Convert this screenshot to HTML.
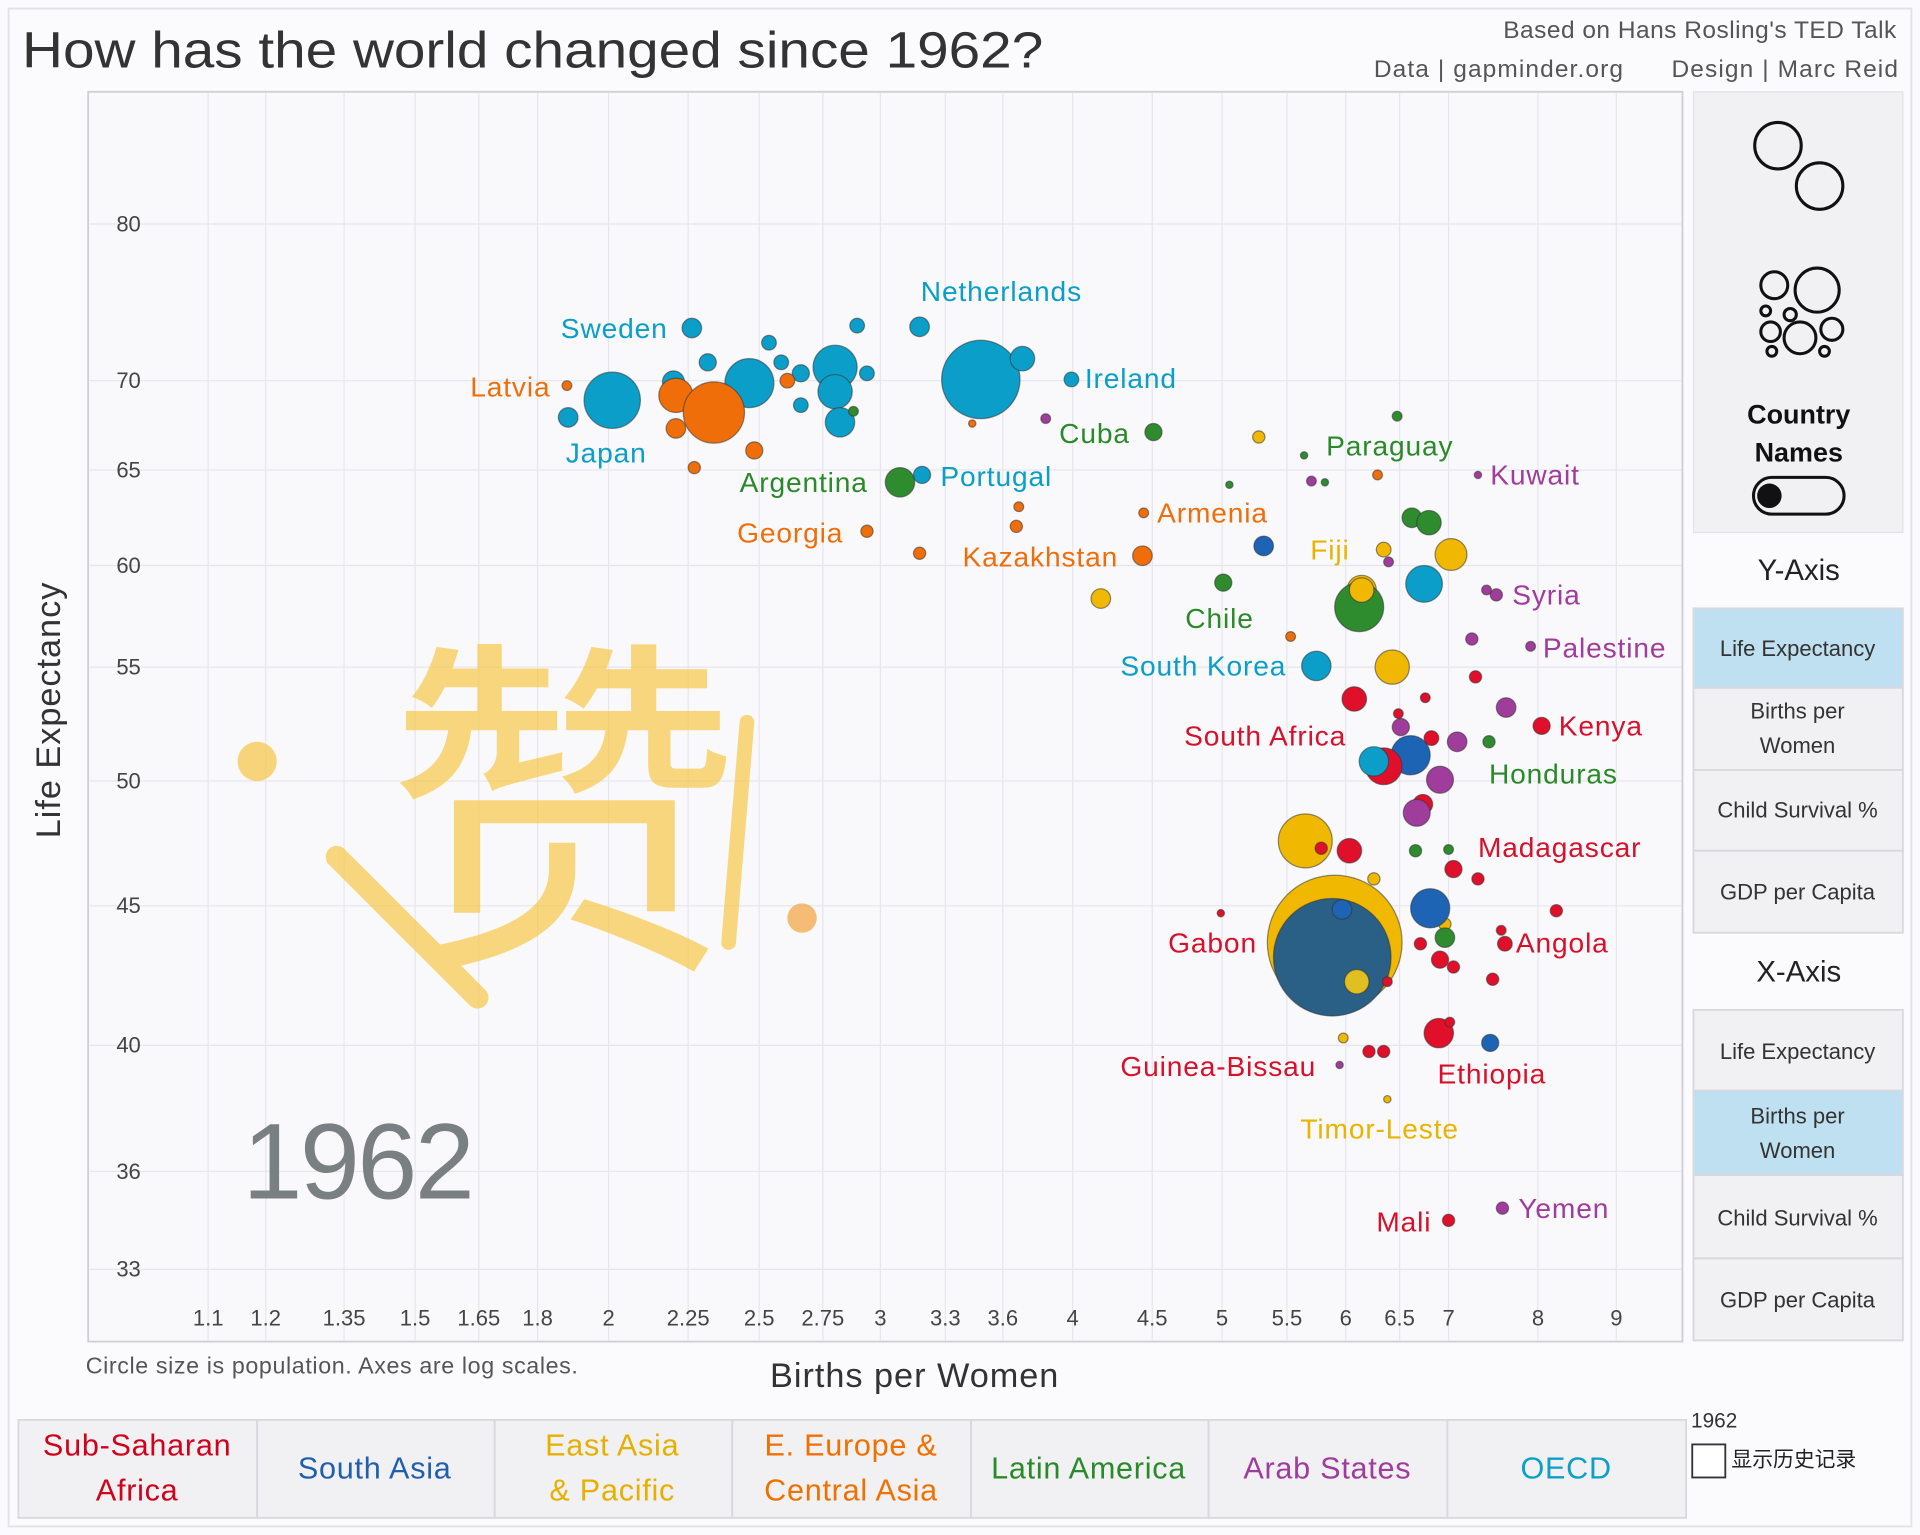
<!DOCTYPE html>
<html><head><meta charset="utf-8"><style>
html,body{margin:0;padding:0;background:#fbfbfd;}
svg{display:block;}
text{font-family:"Liberation Sans","Noto Sans CJK SC",sans-serif;}
</style></head><body>
<svg width="1920" height="1535" viewBox="0 0 1568 1254" preserveAspectRatio="none" xmlns="http://www.w3.org/2000/svg">
<rect x="0" y="0" width="1568" height="1254" fill="#fbfbfd"/>
<rect x="7" y="7" width="1554" height="1240" fill="none" stroke="#e2e2e8" stroke-width="1.5"/>
<text x="18" y="55" font-size="42" fill="#333" textLength="834" lengthAdjust="spacingAndGlyphs">How has the world changed since 1962?</text>
<text x="1549" y="31" font-size="20" fill="#555" text-anchor="end" letter-spacing="0.4">Based on Hans Rosling's TED Talk</text>
<text x="1122" y="63" font-size="20" fill="#555" textLength="428" lengthAdjust="spacing">Data | gapminder.org &#160;&#160;&#160;&#160; Design | Marc Reid</text>
<rect x="72" y="75" width="1302" height="1021" fill="#f9f9fc" stroke="#cfcfd6" stroke-width="1.5"/>
<g stroke="#e6e6ec" stroke-width="1">
<line x1="170" y1="76" x2="170" y2="1095"/><line x1="217" y1="76" x2="217" y2="1095"/><line x1="281" y1="76" x2="281" y2="1095"/><line x1="339" y1="76" x2="339" y2="1095"/><line x1="391" y1="76" x2="391" y2="1095"/><line x1="439" y1="76" x2="439" y2="1095"/><line x1="497" y1="76" x2="497" y2="1095"/><line x1="562" y1="76" x2="562" y2="1095"/><line x1="620" y1="76" x2="620" y2="1095"/><line x1="672" y1="76" x2="672" y2="1095"/><line x1="719" y1="76" x2="719" y2="1095"/><line x1="772" y1="76" x2="772" y2="1095"/><line x1="819" y1="76" x2="819" y2="1095"/><line x1="876" y1="76" x2="876" y2="1095"/><line x1="941" y1="76" x2="941" y2="1095"/><line x1="998" y1="76" x2="998" y2="1095"/><line x1="1051" y1="76" x2="1051" y2="1095"/><line x1="1099" y1="76" x2="1099" y2="1095"/><line x1="1143" y1="76" x2="1143" y2="1095"/><line x1="1183" y1="76" x2="1183" y2="1095"/><line x1="1256" y1="76" x2="1256" y2="1095"/><line x1="1320" y1="76" x2="1320" y2="1095"/>
<line x1="73" y1="183" x2="1373" y2="183"/><line x1="73" y1="311" x2="1373" y2="311"/><line x1="73" y1="384" x2="1373" y2="384"/><line x1="73" y1="462" x2="1373" y2="462"/><line x1="73" y1="545" x2="1373" y2="545"/><line x1="73" y1="638" x2="1373" y2="638"/><line x1="73" y1="740" x2="1373" y2="740"/><line x1="73" y1="854" x2="1373" y2="854"/><line x1="73" y1="957" x2="1373" y2="957"/><line x1="73" y1="1037" x2="1373" y2="1037"/>
</g>
<g font-size="18" fill="#444" text-anchor="middle">
<text x="105" y="189">80</text><text x="105" y="317">70</text><text x="105" y="390">65</text><text x="105" y="468">60</text><text x="105" y="551">55</text><text x="105" y="644">50</text><text x="105" y="746">45</text><text x="105" y="860">40</text><text x="105" y="963">36</text><text x="105" y="1043">33</text>
<text x="170" y="1083">1.1</text><text x="217" y="1083">1.2</text><text x="281" y="1083">1.35</text><text x="339" y="1083">1.5</text><text x="391" y="1083">1.65</text><text x="439" y="1083">1.8</text><text x="497" y="1083">2</text><text x="562" y="1083">2.25</text><text x="620" y="1083">2.5</text><text x="672" y="1083">2.75</text><text x="719" y="1083">3</text><text x="772" y="1083">3.3</text><text x="819" y="1083">3.6</text><text x="876" y="1083">4</text><text x="941" y="1083">4.5</text><text x="998" y="1083">5</text><text x="1051" y="1083">5.5</text><text x="1099" y="1083">6</text><text x="1143" y="1083">6.5</text><text x="1183" y="1083">7</text><text x="1256" y="1083">8</text><text x="1320" y="1083">9</text>
</g>
<text transform="translate(49,580) rotate(-90)" font-size="28" fill="#333" text-anchor="middle" letter-spacing="0.8">Life Expectancy</text>
<text x="747" y="1133" font-size="28" fill="#333" text-anchor="middle" letter-spacing="0.8">Births per Women</text>
<text x="70" y="1122" font-size="19" fill="#555" letter-spacing="0.5">Circle size is population.  Axes are log scales.</text>
<text x="198" y="979" font-size="88" fill="#7a7f82" letter-spacing="-2">1962</text>
<!-- watermark -->
<g opacity="0.7">
<text x="315" y="770" font-size="290" fill="#f8c84a">赞</text>
<circle cx="210" cy="622" r="16" fill="#f7c443"/>
<circle cx="655" cy="750" r="12" fill="#f2a33a"/>
<line x1="275" y1="700" x2="390" y2="815" stroke="#f8c84a" stroke-width="18" stroke-linecap="round"/>
<line x1="610" y1="590" x2="595" y2="770" stroke="#f8c84a" stroke-width="12" stroke-linecap="round"/>
</g>
<!-- bubbles -->
<g stroke="#333" stroke-opacity="0.55" stroke-width="1">
<g fill="#f0b800"><circle cx="1090" cy="770" r="55"/><circle cx="1066" cy="687" r="22"/><circle cx="1137" cy="545" r="14"/><circle cx="1185" cy="453" r="13"/><circle cx="1112" cy="482" r="12"/><circle cx="899" cy="489" r="8"/><circle cx="1028" cy="357" r="5"/><circle cx="1130" cy="449" r="6"/><circle cx="1122" cy="718" r="5"/><circle cx="1097" cy="848" r="4"/><circle cx="1133" cy="898" r="3"/><circle cx="1180" cy="755" r="5"/></g>
<g fill="#1e64b4"><circle cx="1088" cy="782" r="48" fill="#2a5f86"/><circle cx="1032" cy="446" r="8"/><circle cx="1152" cy="617" r="16"/><circle cx="1168" cy="742" r="16"/><circle cx="1217" cy="852" r="7"/><circle cx="1096" cy="743" r="8"/></g>
<circle cx="1108" cy="802" r="10" fill="#e0c020"/>
<g fill="#0a9ec8"><circle cx="565" cy="268" r="8"/><circle cx="500" cy="327" r="23"/><circle cx="464" cy="341" r="8"/><circle cx="550" cy="312" r="9"/><circle cx="578" cy="296" r="7"/><circle cx="612" cy="313" r="20"/><circle cx="628" cy="280" r="6"/><circle cx="638" cy="296" r="6"/><circle cx="654" cy="305" r="7"/><circle cx="654" cy="331" r="6"/><circle cx="682" cy="300" r="18"/><circle cx="682" cy="320" r="14"/><circle cx="686" cy="345" r="12"/><circle cx="700" cy="266" r="6"/><circle cx="708" cy="305" r="6"/><circle cx="751" cy="267" r="8"/><circle cx="801" cy="310" r="32"/><circle cx="835" cy="293" r="10"/><circle cx="875" cy="310" r="6"/><circle cx="753" cy="388" r="7"/><circle cx="1075" cy="544" r="12"/><circle cx="1163" cy="477" r="15"/></g>
<g fill="#f06e0a"><circle cx="463" cy="315" r="4"/><circle cx="552" cy="323" r="14"/><circle cx="583" cy="337" r="25"/><circle cx="552" cy="350" r="8"/><circle cx="616" cy="368" r="7"/><circle cx="567" cy="382" r="5"/><circle cx="643" cy="311" r="6"/><circle cx="708" cy="434" r="5"/><circle cx="751" cy="452" r="5"/><circle cx="794" cy="346" r="3"/><circle cx="832" cy="414" r="4"/><circle cx="830" cy="430" r="5"/><circle cx="934" cy="419" r="4"/><circle cx="933" cy="454" r="8"/><circle cx="1054" cy="520" r="4"/><circle cx="1125" cy="388" r="4"/></g>
<g fill="#2e8b2e"><circle cx="735" cy="394" r="12"/><circle cx="942" cy="353" r="7"/><circle cx="697" cy="336" r="4"/><circle cx="1141" cy="340" r="4"/><circle cx="999" cy="476" r="7"/><circle cx="1110" cy="496" r="20"/><circle cx="1153" cy="423" r="8"/><circle cx="1167" cy="427" r="10"/><circle cx="1216" cy="606" r="5"/><circle cx="1156" cy="695" r="5"/><circle cx="1183" cy="694" r="4"/><circle cx="1180" cy="766" r="8"/><circle cx="1065" cy="372" r="3"/><circle cx="1004" cy="396" r="3"/><circle cx="1082" cy="394" r="3"/></g>
<circle cx="1112" cy="482" r="10" fill="#f0b800"/>
<g fill="#e0102a"><circle cx="1106" cy="571" r="10"/><circle cx="1130" cy="626" r="15"/><circle cx="1102" cy="695" r="10"/><circle cx="1169" cy="603" r="6"/><circle cx="1162" cy="657" r="8"/><circle cx="1187" cy="710" r="7"/><circle cx="1207" cy="718" r="5"/><circle cx="1205" cy="553" r="5"/><circle cx="1259" cy="593" r="7"/><circle cx="1229" cy="771" r="6"/><circle cx="1226" cy="760" r="4"/><circle cx="1271" cy="744" r="5"/><circle cx="1219" cy="800" r="5"/><circle cx="1176" cy="784" r="7"/><circle cx="1187" cy="790" r="5"/><circle cx="1175" cy="844" r="12"/><circle cx="1184" cy="835" r="4"/><circle cx="1118" cy="859" r="5"/><circle cx="1130" cy="859" r="5"/><circle cx="1183" cy="997" r="5"/><circle cx="997" cy="746" r="3"/><circle cx="1160" cy="771" r="5"/><circle cx="1133" cy="802" r="4"/><circle cx="1142" cy="583" r="4"/><circle cx="1164" cy="570" r="4"/><circle cx="1079" cy="693" r="5"/></g>
<circle cx="1122" cy="622" r="12" fill="#0a9ec8"/>
<g fill="#a03c9c"><circle cx="1144" cy="594" r="7"/><circle cx="1176" cy="637" r="11"/><circle cx="1157" cy="664" r="11"/><circle cx="1190" cy="606" r="8"/><circle cx="1230" cy="578" r="8"/><circle cx="1202" cy="522" r="5"/><circle cx="1222" cy="486" r="5"/><circle cx="1227" cy="987" r="5"/><circle cx="1250" cy="528" r="4"/><circle cx="1071" cy="393" r="4"/><circle cx="1134" cy="459" r="4"/><circle cx="1214" cy="482" r="4"/><circle cx="854" cy="342" r="4"/><circle cx="1094" cy="870" r="3"/><circle cx="1207" cy="388" r="3"/></g>
</g>
<g font-size="23" letter-spacing="0.7">
<g fill="#0a9ec8"><text x="458" y="276">Sweden</text><text x="752" y="246">Netherlands</text><text x="886" y="317">Ireland</text><text x="462" y="378">Japan</text><text x="768" y="397">Portugal</text><text x="915" y="552">South Korea</text></g>
<g fill="#f06e0a"><text x="384" y="324">Latvia</text><text x="945" y="427">Armenia</text><text x="602" y="443">Georgia</text><text x="786" y="463">Kazakhstan</text></g>
<g fill="#2a8a2a"><text x="865" y="362">Cuba</text><text x="1083" y="372">Paraguay</text><text x="604" y="402">Argentina</text><text x="968" y="513">Chile</text><text x="1216" y="640">Honduras</text></g>
<g fill="#a03c9c"><text x="1217" y="396">Kuwait</text><text x="1235" y="494">Syria</text><text x="1260" y="537">Palestine</text><text x="1240" y="995">Yemen</text></g>
<g fill="#e8b400"><text x="1070" y="457">Fiji</text><text x="1062" y="930">Timor-Leste</text></g>
<g fill="#d8102a"><text x="967" y="609">South Africa</text><text x="1273" y="601">Kenya</text><text x="1207" y="700">Madagascar</text><text x="954" y="778">Gabon</text><text x="1238" y="778">Angola</text><text x="915" y="879">Guinea-Bissau</text><text x="1174" y="885">Ethiopia</text><text x="1124" y="1006">Mali</text></g>
</g>
<!-- right panel -->
<rect x="1383" y="75" width="171" height="360" fill="#f1f0f3" stroke="#e2e2e6"/>
<g fill="none" stroke="#111" stroke-width="2.5">
<circle cx="1452" cy="119" r="19"/><circle cx="1486" cy="152" r="19"/>
<circle cx="1449" cy="233" r="11"/><circle cx="1484" cy="237" r="18"/><circle cx="1442" cy="254" r="4"/><circle cx="1462" cy="257" r="5"/><circle cx="1446" cy="271" r="8"/><circle cx="1470" cy="276" r="13"/><circle cx="1496" cy="269" r="9"/><circle cx="1447" cy="287" r="4"/><circle cx="1490" cy="287" r="4"/>
<rect x="1432" y="390" width="74" height="30" rx="15"/>
</g>
<circle cx="1445" cy="405" r="10" fill="#111"/>
<text x="1469" y="346" font-size="22" fill="#111" font-weight="bold" text-anchor="middle">Country</text>
<text x="1469" y="377" font-size="22" fill="#111" font-weight="bold" text-anchor="middle">Names</text>
<text x="1469" y="474" font-size="24" fill="#222" text-anchor="middle">Y-Axis</text>
<text x="1469" y="802" font-size="24" fill="#222" text-anchor="middle">X-Axis</text>
<g stroke="#d8d8de" stroke-width="1.5">
<rect x="1383" y="497" width="171" height="65" fill="#bfe0f0"/>
<rect x="1383" y="562" width="171" height="67" fill="#f1f0f3"/>
<rect x="1383" y="629" width="171" height="66" fill="#f1f0f3"/>
<rect x="1383" y="695" width="171" height="67" fill="#f1f0f3"/>
<rect x="1383" y="825" width="171" height="66" fill="#f1f0f3"/>
<rect x="1383" y="891" width="171" height="69" fill="#bfe0f0"/>
<rect x="1383" y="960" width="171" height="68" fill="#f1f0f3"/>
<rect x="1383" y="1028" width="171" height="67" fill="#f1f0f3"/>
</g>
<g font-size="18" fill="#333" text-anchor="middle">
<text x="1468" y="536">Life Expectancy</text>
<text x="1468" y="587">Births per</text><text x="1468" y="615">Women</text>
<text x="1468" y="668">Child Survival %</text>
<text x="1468" y="735">GDP per Capita</text>
<text x="1468" y="865">Life Expectancy</text>
<text x="1468" y="918">Births per</text><text x="1468" y="946">Women</text>
<text x="1468" y="1001">Child Survival %</text>
<text x="1468" y="1068">GDP per Capita</text>
</g>
<!-- legend -->
<g stroke="#d8d8de" stroke-width="1.5" fill="#f1f0f3">
<rect x="15" y="1160" width="195" height="80"/><rect x="210" y="1160" width="194" height="80"/><rect x="404" y="1160" width="194" height="80"/><rect x="598" y="1160" width="195" height="80"/><rect x="793" y="1160" width="194" height="80"/><rect x="987" y="1160" width="195" height="80"/><rect x="1182" y="1160" width="195" height="80"/>
</g>
<g font-size="25" text-anchor="middle" letter-spacing="0.6">
<text x="112" y="1189" fill="#d0021b">Sub-Saharan</text><text x="112" y="1226" fill="#d0021b">Africa</text>
<text x="306" y="1208" fill="#1f5fad">South Asia</text>
<text x="500" y="1189" fill="#e6b000">East Asia</text><text x="500" y="1226" fill="#e6b000">&amp; Pacific</text>
<text x="695" y="1189" fill="#f07000">E. Europe &amp;</text><text x="695" y="1226" fill="#f07000">Central Asia</text>
<text x="889" y="1208" fill="#2a8a2a">Latin America</text>
<text x="1084" y="1208" fill="#a03c9c">Arab States</text>
<text x="1279" y="1208" fill="#0aa0c8">OECD</text>
</g>
<text x="1381" y="1166" font-size="17" fill="#333">1962</text>
<rect x="1382" y="1180" width="27" height="27" fill="#fff" stroke="#333" stroke-width="1.5"/>
<text x="1414" y="1198" font-size="17" fill="#222">显示历史记录</text>
</svg>
</body></html>
